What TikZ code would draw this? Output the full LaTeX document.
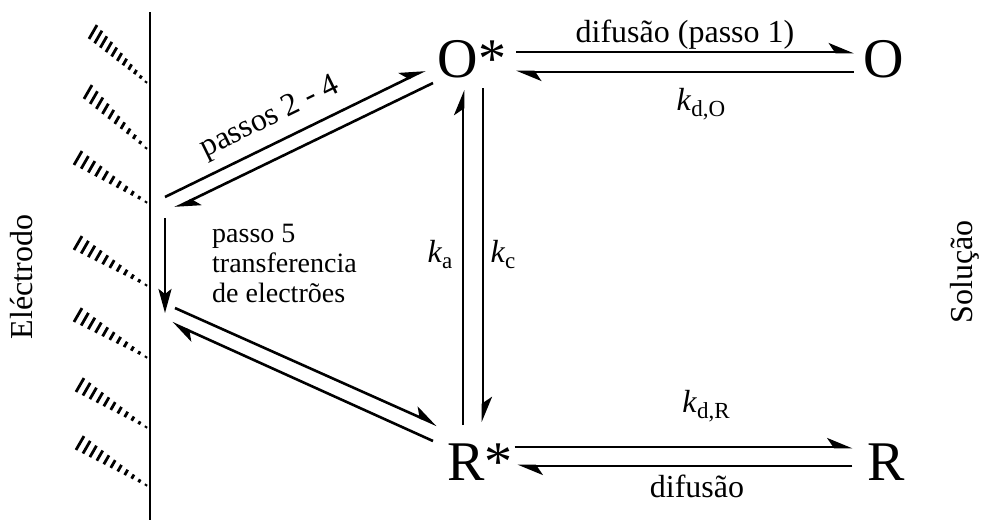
\documentclass[tikz,border=0pt]{standalone}
\usepackage{fontspec}
\setmainfont{Liberation Serif}
\usetikzlibrary{arrows.meta,calc}

\newcommand{\ksub}[1]{\textit{k}\raisebox{-6pt}{\fontsize{23}{24}\selectfont #1}}

\tikzset{
  species/.style={font=\fontsize{56}{60}\selectfont, inner sep=0pt, outer sep=10pt,
                  text height=38pt, text depth=0pt},
  lbl/.style={font=\fontsize{32}{36}\selectfont, inner sep=0pt},
  smalllbl/.style={font=\fontsize{28}{30}\selectfont, inner sep=0pt},
  hrp/.style={line width=2.6pt, -{Stealth[harpoon,length=22pt,width=18pt,inset=6pt]}},
  fullarr/.style={line width=2.6pt, -{Stealth[length=24pt,width=13pt,inset=5pt]}},
  hatch/.style={line width=2.8pt}
}

\begin{document}
\begin{tikzpicture}[x=1pt,y=1pt]
  \useasboundingbox (0,0) rectangle (981,-520);

  % electrode surface
  \coordinate (etop) at (150,-12);
  \coordinate (ebot) at (150,-520);
  \draw[line width=2pt] (etop) -- (ebot);
  \foreach \sx/\sy/\ey in {93/32/82, 88/92/148, 78/158/202, 78/243/285, 78/315/357, 80/385/427, 80/443/485}{
    \foreach \i in {0,...,10}{
      \pgfmathsetmacro\h{8-0.7*\i}
      \pgfmathsetmacro\l{2*\h}
      \draw[hatch] ($(\sx,-\sy)!\i/10!(146,-\ey)$) ++(240:\h) -- ++(60:\l);
    }
  }

  % species
  \node[species] (Ostar) at (472,-58) {O*};
  \node[species] (O) at (884,-58) {O};
  \node[species] (Rstar) at (480,-461) {R*};
  \node[species] (R) at (886,-461) {R};

  % points at the electrode
  \coordinate (pa) at (165,-197);
  \coordinate (pb) at (175,-208);
  \coordinate (ptop) at (165,-218);
  \coordinate (pbot) at (165,-313);
  \coordinate (pc) at (175,-308);
  \coordinate (pd) at (172,-323);

  % electrode <-> O*
  \draw[hrp] (pa) -- ($(Ostar.center)+(-47pt,-12pt)$);
  \draw[hrp] ($(Ostar.center)+(-39pt,-25pt)$) -- (pb);
  % electron transfer
  \draw[fullarr] (ptop) -- (pbot);
  % electrode <-> R*
  \draw[hrp] (pc) -- ($(Rstar.center)+(-43pt,36pt)$);
  \draw[hrp] ($(Rstar.center)+(-47pt,20pt)$) -- (pd);

  % O* <-> O
  \draw[hrp] ([yshift=6pt]Ostar.east) -- ([yshift=6pt]O.west);
  \draw[hrp] ([yshift=-14pt]O.west) -- ([yshift=-14pt]Ostar.east);
  % R* <-> R
  \draw[hrp] ([shift={(-8pt,14pt)}]Rstar.east) -- ([shift={(-5pt,14pt)}]R.west);
  \draw[hrp] ([shift={(-5pt,-5pt)}]R.west) -- ([shift={(-5pt,-5pt)}]Rstar.east);
  % O* <-> R*
  \draw[hrp] ($(Rstar.north -| Ostar.south)+(-9pt,7pt)$) -- ($(Ostar.south)+(-9pt,-3pt)$);
  \draw[hrp] ($(Ostar.south)+(11pt,-1pt)$) -- ($(Rstar.north -| Ostar.south)+(11pt,10pt)$);

  % labels
  \node[lbl, anchor=base] (dif1) at (685,-42) {difusão (passo 1)};
  \node[lbl, anchor=base] (kdO) at (701,-110) {\ksub{d,O}};
  \node[lbl, anchor=base] (kdR) at (706,-412) {\ksub{d,R}};
  \node[lbl, anchor=base] (dif2) at (697,-497) {difusão};
  \node[lbl, anchor=base] (ka) at (440,-262) {\ksub{a}};
  \node[lbl, anchor=base] (kc) at (503,-262) {\ksub{c}};
  \node[lbl, rotate=26] (passos) at (270,-118) {passos 2 - 4};
  \node[smalllbl, anchor=base west, align=left] (passo5) at (212,-302)
       {passo 5\\transferencia\\de electrões};
  \node[lbl, rotate=90] (elec) at (22,-277) {Eléctrodo};
  \node[lbl, rotate=90] (sol) at (965,-272) {Solução};
\end{tikzpicture}
\end{document}
